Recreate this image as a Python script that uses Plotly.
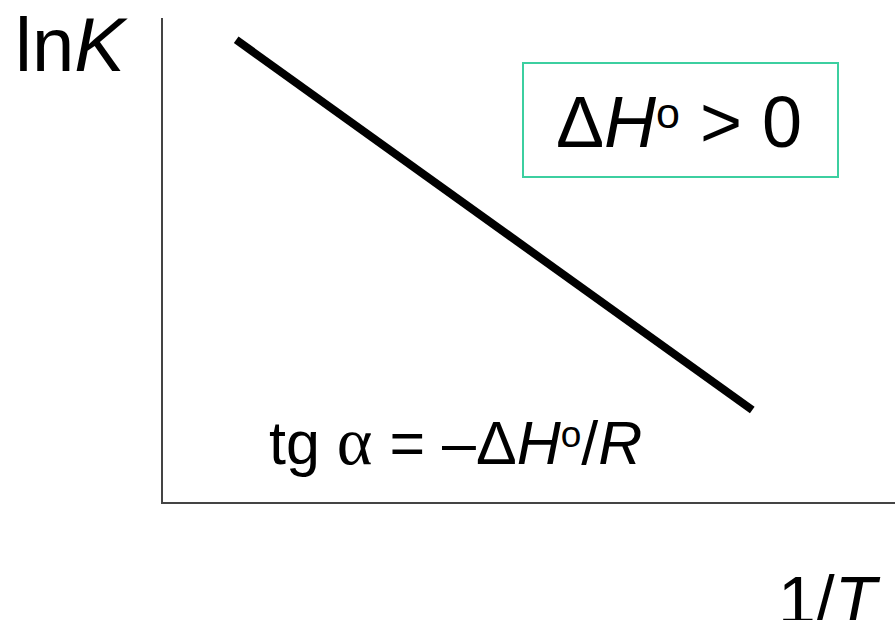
import plotly.graph_objects as go

# dados (esquema: ln K em função de 1/T)
inv_T = [1.0, 8.05]
ln_K = [9.55, 1.9]

fonte = "Liberation Sans, Arial, sans-serif"

W, H = 895, 620
# área do gráfico em pixels
L, R, T, B = 163, 895, 18, 502


def px(x):
    return (x - L) / (R - L)


def py(y):
    return (B - y) / (B - T)


def grau(tam):
    # "o" pequeno elevado, como no original
    return ('<span style="font-size:%dpx;baseline-shift:%dpx">o</span>'
            % (round(tam * 0.6), round(tam * 0.27)))


fig = go.Figure()
fig.add_trace(go.Scatter(x=inv_T, y=ln_K, mode="lines",
                         line=dict(color="black", width=8), hoverinfo="skip"))

# caixa com ΔH° > 0
fig.add_shape(type="rect", xref="paper", yref="paper",
              x0=px(523), x1=px(838), y0=py(177), y1=py(63),
              line=dict(color="#3ccfa0", width=2), fillcolor="white", layer="above")

alfa = '<span style="font-family:Liberation Serif;font-size:68px">α</span>'
textos = [
    ("ln<i>K</i>", 71, 45, 76),
    ("Δ<i>H</i>" + grau(72) + " > 0", 679, 122, 72),
    ("tg " + alfa + " = –Δ<i>H</i>" + grau(62) + "/<i>R</i>", 455, 441, 61),
    ("1/<i>T</i>", 829, 600, 68),
]
for txt, x, y, tam in textos:
    fig.add_annotation(text=txt, xref="paper", yref="paper", x=px(x), y=py(y),
                       xanchor="center", yanchor="middle", showarrow=False,
                       font=dict(family=fonte, size=tam, color="black"))

fig.update_xaxes(range=[0, 10], showline=True, linecolor="#444", linewidth=2,
                 showgrid=False, zeroline=False, showticklabels=False, ticks="")
fig.update_yaxes(range=[0, 10], showline=True, linecolor="#444", linewidth=2,
                 showgrid=False, zeroline=False, showticklabels=False, ticks="")

fig.update_layout(width=W, height=H, autosize=False, showlegend=False,
                  plot_bgcolor="white", paper_bgcolor="white",
                  margin=dict(l=L, r=W - R, t=T, b=H - B, pad=0))

# tira a margem do body para a figura ocupar a janela toda
fig.write_html("out.html", config={"displayModeBar": False},
               post_script="document.body.style.margin='0';"
                           "document.body.style.overflow='hidden';")
